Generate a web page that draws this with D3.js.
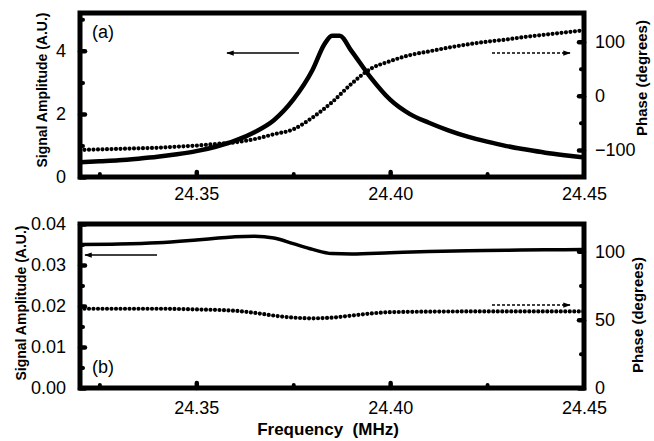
<!DOCTYPE html>
<html><head><meta charset="utf-8">
<script src="https://cdn.jsdelivr.net/npm/d3@7/dist/d3.min.js"></script>
<style>
body{margin:0;background:#fff;}
text{font-family:"Liberation Sans",Arial,Helvetica,sans-serif;fill:#000;}
</style></head>
<body><svg id="c" width="654" height="441"></svg>
<script>
// ---------- data ----------
const freqA = [24.320,24.325,24.330,24.335,24.340,24.345,24.350,24.355,24.360,24.365,24.370,24.375,24.380,24.383,24.385,24.387,24.390,24.395,24.400,24.405,24.410,24.415,24.420,24.425,24.430,24.435,24.440,24.445,24.450];
const ampA  = [0.47,0.50,0.53,0.58,0.64,0.72,0.82,0.96,1.15,1.42,1.80,2.45,3.40,4.20,4.48,4.48,4.00,3.15,2.45,2.00,1.72,1.48,1.28,1.12,0.98,0.87,0.77,0.69,0.62];
const freqPA = [24.320,24.325,24.330,24.335,24.340,24.345,24.350,24.355,24.360,24.365,24.370,24.375,24.380,24.385,24.390,24.395,24.400,24.405,24.410,24.415,24.420,24.425,24.430,24.435,24.440,24.445,24.450];
const phaseA = [-100,-99,-98,-97,-96,-94,-92,-89,-86,-80,-71,-62,-40,-12,22,50,64,75,82,89,95,100,104,109,113,117,121];

const freqB = [24.320,24.330,24.340,24.350,24.355,24.360,24.365,24.370,24.375,24.380,24.385,24.390,24.400,24.410,24.420,24.430,24.440,24.450];
const ampB  = [0.0350,0.0351,0.0354,0.0361,0.0365,0.0369,0.0370,0.0366,0.0352,0.0338,0.0328,0.0327,0.0330,0.0333,0.0335,0.0336,0.0337,0.0338];
const freqPB = [24.320,24.340,24.350,24.360,24.365,24.370,24.375,24.380,24.385,24.390,24.395,24.400,24.420,24.450];
const phaseB = [58,58,57.5,56.5,55,53,51.5,51,51.5,53,54.5,55.5,56,56];

const xTicksMajor = [24.35,24.40,24.45];
const xTicksMinor = [24.325,24.375,24.425];
const ampATicks = [0,2,4], ampAMinor = [1,3,5];
const phATicks = [-100,0,100], phAMinor = [-50,50];
const ampBTicks = [0,0.01,0.02,0.03,0.04], ampBMinor = [0.005,0.015,0.025,0.035];
const phBTicks = [0,50,100], phBMinor = [25,75];

// ---------- layout ----------
const svg = d3.select("#c");
const X0 = 80, X1 = 584;
const pTop = {y0:13, y1:177}, pBot = {y0:224, y1:388};
const x = d3.scaleLinear().domain([24.32,24.45]).range([X0,X1]);
const yA = d3.scaleLinear().domain([0,5.2]).range([pTop.y1,pTop.y0]);
const yPA = d3.scaleLinear().domain([-150,153]).range([pTop.y1,pTop.y0]);
const yB = d3.scaleLinear().domain([0,0.04]).range([pBot.y1,pBot.y0]);
const yPB = d3.scaleLinear().domain([0,120]).range([pBot.y1,pBot.y0]);

function styleAxis(g){
  g.select(".domain").remove();
  g.selectAll(".tick line").attr("stroke","#000").attr("stroke-width",4.5).attr("stroke-linecap","round");
  g.selectAll(".tick text").attr("font-size",18).attr("fill","#000");
}
function minorTicks(g, sc, vals, orient){
  const ax = (orient==="left"?d3.axisLeft:orient==="right"?d3.axisRight:d3.axisBottom)(sc)
    .tickValues(vals).tickSizeInner(-3).tickSizeOuter(0).tickFormat("");
  g.call(ax); g.select(".domain").remove();
  g.selectAll(".tick line").attr("stroke","#000").attr("stroke-width",4).attr("stroke-linecap","round");
}

function panel(p, yL, yR, lt, lm, rt, rm, lfmt, xpad){
  const gx = svg.append("g").attr("transform",`translate(0,${p.y1})`);
  gx.call(d3.axisBottom(x).tickValues(xTicksMajor).tickSizeInner(-5).tickSizeOuter(0).tickPadding(xpad).tickFormat(d3.format(".2f")));
  styleAxis(gx);
  gx.selectAll(".tick").filter(d=>d===24.45).select("line").remove();
  minorTicks(svg.append("g").attr("transform",`translate(0,${p.y1})`), x, xTicksMinor, "bottom");
  const gl = svg.append("g").attr("transform",`translate(${X0},0)`);
  gl.call(d3.axisLeft(yL).tickValues(lt).tickSizeInner(-5).tickSizeOuter(0).tickPadding(14).tickFormat(lfmt));
  styleAxis(gl);
  minorTicks(svg.append("g").attr("transform",`translate(${X0},0)`), yL, lm, "left");
  const gr = svg.append("g").attr("transform",`translate(${X1},0)`);
  gr.call(d3.axisRight(yR).tickValues(rt).tickSizeInner(-5).tickSizeOuter(0).tickPadding(11).tickFormat(d3.format("d")));
  styleAxis(gr);
  minorTicks(svg.append("g").attr("transform",`translate(${X1},0)`), yR, rm, "right");
  svg.append("rect").attr("x",X0).attr("y",p.y0).attr("width",X1-X0).attr("height",p.y1-p.y0)
    .attr("fill","none").attr("stroke","#000").attr("stroke-width",5);
}

panel(pTop, yA, yPA, ampATicks, ampAMinor, phATicks, phAMinor, d3.format("d"), 10);
panel(pBot, yB, yPB, ampBTicks, ampBMinor, phBTicks, phBMinor, d3.format(".2f"), 13);

// ---------- curves ----------
const lineGen = (xs, ys, ysc) => d3.line().curve(d3.curveMonotoneX)
  .x((d,i)=>x(xs[i])).y((d,i)=>ysc(ys[i]))(ys);

const defs = svg.append("defs");
defs.append("clipPath").attr("id","cT").append("rect").attr("x",X0).attr("y",pTop.y0).attr("width",X1-X0).attr("height",pTop.y1-pTop.y0);
defs.append("clipPath").attr("id","cB").append("rect").attr("x",X0).attr("y",pBot.y0).attr("width",X1-X0).attr("height",pBot.y1-pBot.y0);

svg.append("path").attr("clip-path","url(#cT)").attr("d",lineGen(freqA,ampA,yA))
  .attr("fill","none").attr("stroke","#000").attr("stroke-width",4.5);
svg.append("path").attr("clip-path","url(#cT)").attr("d",lineGen(freqPA,phaseA,yPA))
  .attr("fill","none").attr("stroke","#000").attr("stroke-width",4.2)
  .attr("stroke-linecap","round").attr("stroke-dasharray","0,4.5");
svg.append("path").attr("clip-path","url(#cB)").attr("d",lineGen(freqB,ampB,yB))
  .attr("fill","none").attr("stroke","#000").attr("stroke-width",3.5);
svg.append("path").attr("clip-path","url(#cB)").attr("d",lineGen(freqPB,phaseB,yPB))
  .attr("fill","none").attr("stroke","#000").attr("stroke-width",4.2)
  .attr("stroke-linecap","round").attr("stroke-dasharray","0,4.5");

// ---------- arrows ----------
defs.append("marker").attr("id","ah").attr("viewBox","0 0 10 10").attr("refX",9).attr("refY",5)
  .attr("markerWidth",5).attr("markerHeight",5).attr("markerUnits","strokeWidth").attr("orient","auto")
  .append("path").attr("d","M0,1.5 L10,5 L0,8.5 Z").attr("fill","#000");
function arrow(xa, xb, yy, dashed){
  svg.append("line").attr("x1",xa).attr("x2",xb).attr("y1",yy).attr("y2",yy)
    .attr("stroke","#000").attr("stroke-width",1.5)
    .attr("stroke-dasharray",dashed?"3,2":null).attr("marker-end","url(#ah)");
}
arrow(299,227,53,false);
arrow(492,570,53,true);
arrow(157,85,255,false);
arrow(492,570,305,true);

// ---------- labels ----------
svg.append("text").attr("x",92).attr("y",38).attr("font-size",18).text("(a)");
svg.append("text").attr("x",92).attr("y",373).attr("font-size",18).text("(b)");
function vtitle(tx,ty,t,fs){
  svg.append("text").attr("transform",`translate(${tx},${ty}) rotate(-90)`).attr("text-anchor","middle")
    .attr("font-size",fs).attr("font-weight","bold").text(t);
}
vtitle(47,90,"Signal Amplitude (A.U.)",14);
vtitle(26,303,"Signal Amplitude (A.U.)",14);
vtitle(647,78,"Phase (degrees)",15);
vtitle(643,315,"Phase (degrees)",15);
svg.append("text").attr("x",328).attr("y",435).attr("text-anchor","middle")
  .attr("font-size",17).attr("font-weight","bold").attr("xml:space","preserve").text("Frequency  (MHz)");
</script></body></html>
